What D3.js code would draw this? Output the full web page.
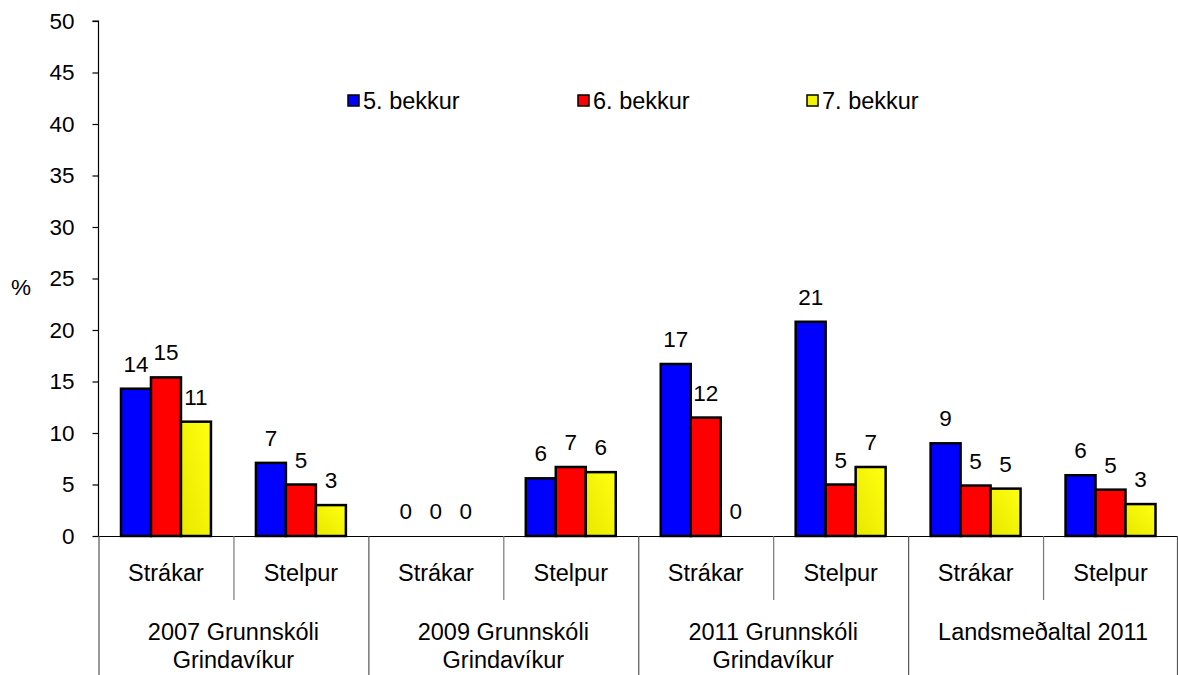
<!DOCTYPE html>
<html>
<head>
<meta charset="utf-8">
<script src="https://cdn.jsdelivr.net/npm/d3@7"></script>
<style>
  html, body { margin: 0; padding: 0; background: #fff; }
  svg { display: block; font-family: "Liberation Sans", Arial, sans-serif; }
</style>
</head>
<body>
<svg id="chart" width="1178" height="675"></svg>
<script>
// ---- data ----
const groupLabels = [["2007 Grunnskóli", "Grindavíkur"], ["2009 Grunnskóli", "Grindavíkur"], ["2011 Grunnskóli", "Grindavíkur"], ["Landsmeðaltal 2011"]];
const genders = ["Strákar", "Stelpur"];
const seriesNames = ["5. bekkur", "6. bekkur", "7. bekkur"];
const seriesColors = ["#0000ff", "#ff0000", "url(#yellowGrad)"];
const legendColors = ["#0000ff", "#ff0000", "#f4f400"];
const bekkur5 = [14.3, 7.1, 0, 5.6, 16.7, 20.8, 9.0, 5.9];
const bekkur6 = [15.4, 5.0, 0, 6.7, 11.5, 5.0, 4.9, 4.5];
const bekkur7 = [11.1, 3.0, 0, 6.2, 0, 6.7, 4.6, 3.1];
const yTicks = [0, 5, 10, 15, 20, 25, 30, 35, 40, 45, 50];
const yTitle = "%";

const seriesValues = [bekkur5, bekkur6, bekkur7];
const cells = d3.range(groupLabels.length * genders.length);

const svg = d3.select("#chart");
const FS = 22.5;   // numbers
const FL = 23.5;   // category / legend text

const defs = svg.append("defs");
const yg = defs.append("linearGradient").attr("id", "yellowGrad")
  .attr("x1", "100%").attr("y1", "0%").attr("x2", "0%").attr("y2", "100%");
yg.append("stop").attr("offset", "0%").attr("stop-color", "#ffff10");
yg.append("stop").attr("offset", "100%").attr("stop-color", "#e8e800");

const left = 98.5, right = 1178, y0 = 536, yTop = 21;
const x = d3.scaleBand().domain(cells).range([left, right]).paddingInner(0).paddingOuter(0);
const xs = d3.scaleBand().domain(seriesNames).range([0, x.bandwidth()]).paddingInner(0).paddingOuter(0.75);
const y = d3.scaleLinear().domain([0, 50]).range([y0, yTop]);

// y axis
const yAxis = d3.axisLeft(y).tickValues(yTicks).tickSize(6).tickPadding(18).tickFormat(d3.format("d"));
const ya = svg.append("g").attr("transform", `translate(${left},0)`).call(yAxis);
ya.select(".domain").attr("stroke", "#000").attr("stroke-width", 1.2).attr("d", `M-6,${yTop}H0V${y0 + 1}`);
ya.selectAll(".tick line").attr("stroke", "#000").attr("stroke-width", 1.2);
ya.selectAll(".tick text").attr("font-size", FS).attr("fill", "#000").attr("font-family", "Liberation Sans, Arial, sans-serif");

svg.append("text").attr("x", 21).attr("y", 287).attr("text-anchor", "middle").attr("dominant-baseline", "central")
  .attr("font-size", FS).text(yTitle);

// bars
seriesNames.forEach((s, si) => {
  svg.append("g").selectAll("rect").data(cells).join("rect")
    .attr("x", c => x(c) + xs(s))
    .attr("y", c => y(seriesValues[si][c]))
    .attr("width", xs.bandwidth())
    .attr("height", c => y0 - y(seriesValues[si][c]))
    .attr("fill", seriesColors[si])
    .attr("stroke", "#000").attr("stroke-width", 2.5)
    .attr("display", c => seriesValues[si][c] > 0 ? null : "none");
  svg.append("g").selectAll("text").data(cells).join("text")
    .attr("x", c => x(c) + xs(s) + xs.bandwidth() / 2)
    .attr("y", c => y(seriesValues[si][c]) - 17)
    .attr("text-anchor", "middle").attr("font-size", FS).attr("fill", "#000")
    .text(c => Math.round(seriesValues[si][c]));
});

// x axis line
svg.append("line").attr("x1", left).attr("x2", right).attr("y1", y0 + 0.5).attr("y2", y0 + 0.5)
  .attr("stroke", "#000").attr("stroke-width", 1.2);

// separators
cells.forEach(c => {
  const xx = x(c) + 0.5;
  const outer = c % genders.length === 0;
  svg.append("line").attr("x1", xx).attr("x2", xx).attr("y1", y0).attr("y2", outer ? 675 : 600)
    .attr("stroke", outer ? "#555" : "#777").attr("stroke-width", 1.2);
});
svg.append("line").attr("x1", right - 0.5).attr("x2", right - 0.5).attr("y1", y0).attr("y2", 675)
  .attr("stroke", "#555").attr("stroke-width", 1.2);

// gender labels
svg.append("g").selectAll("text").data(cells).join("text")
  .attr("x", c => x(c) + x.bandwidth() / 2).attr("y", 581)
  .attr("text-anchor", "middle").attr("font-size", FL).attr("fill", "#000")
  .text(c => genders[c % genders.length]);

// group labels
groupLabels.forEach((lines, gi) => {
  const cx = x(gi * genders.length) + x.bandwidth();
  const t = svg.append("text").attr("text-anchor", "middle").attr("font-size", FL).attr("fill", "#000");
  lines.forEach((ln, li) => {
    t.append("tspan").attr("x", cx).attr("y", 640 + li * 28).text(ln);
  });
});

// legend
const legendX = [348, 578, 807];
seriesNames.forEach((s, si) => {
  const g = svg.append("g").attr("transform", `translate(${legendX[si]},95)`);
  g.append("rect").attr("x", 0).attr("y", 0).attr("width", 11).attr("height", 11)
    .attr("fill", legendColors[si]).attr("stroke", "#000").attr("stroke-width", 1.5);
  g.append("text").attr("x", 15).attr("y", 14).attr("font-size", FL).attr("fill", "#000").text(s);
});
</script>
</body>
</html>
